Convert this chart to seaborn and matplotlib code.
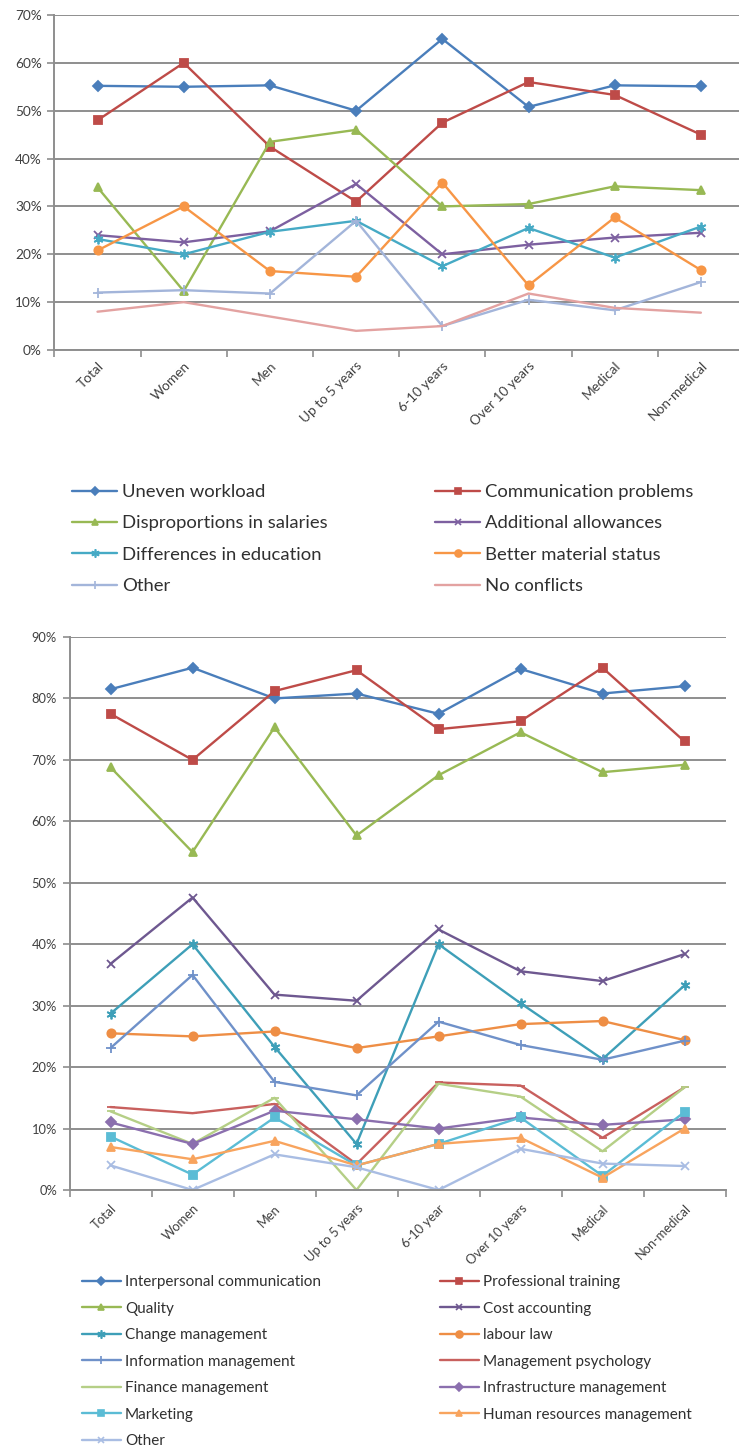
import matplotlib
matplotlib.use("Agg")
import matplotlib.pyplot as plt
from matplotlib.lines import Line2D
from matplotlib.ticker import FixedLocator, FuncFormatter
import seaborn as sns

sns.set_theme(style="white")
plt.rcParams["font.family"] = ["Lato", "DejaVu Sans"]

# ---- conflict causes (upper chart), values in percent ----
groups_conflict = ["Total", "Women", "Men", "Up to 5 years", "6-10 years",
                   "Over 10 years", "Medical", "Non-medical"]
uneven_workload = [55.2, 55.0, 55.3, 50.0, 65.0, 50.8, 55.3, 55.1]
communication_problems = [48.0, 60.0, 42.5, 31.0, 47.5, 56.0, 53.3, 45.0]
salary_disproportions = [34.0, 12.3, 43.5, 46.0, 30.0, 30.5, 34.2, 33.4]
additional_allowances = [24.0, 22.5, 24.8, 34.7, 20.0, 22.0, 23.5, 24.5]
education_differences = [23.2, 20.0, 24.7, 27.0, 17.5, 25.5, 19.3, 25.8]
material_status = [20.8, 30.0, 16.5, 15.3, 35.0, 13.5, 27.7, 16.7]
other_conflict = [12.0, 12.5, 11.8, 27.0, 5.0, 10.5, 8.3, 14.2]
no_conflicts = [8.0, 10.0, 7.0, 4.0, 5.0, 11.8, 8.8, 7.8]

# ---- training needs (lower chart), values in percent ----
groups_training = ["Total", "Women", "Men", "Up to 5 years", "6-10 year",
                   "Over 10 years", "Medical", "Non-medical"]
interpersonal = [81.5, 85.0, 80.0, 80.8, 77.5, 84.8, 80.8, 82.0]
professional = [77.5, 70.0, 81.2, 84.6, 75.0, 76.3, 85.0, 73.0]
quality = [68.8, 55.0, 75.3, 57.7, 67.5, 74.5, 68.0, 69.2]
cost_accounting = [36.8, 47.6, 31.8, 30.8, 42.4, 35.6, 34.0, 38.4]
change_mgmt = [28.7, 40.0, 23.3, 7.5, 40.0, 30.4, 21.3, 33.3]
labour_law = [25.5, 25.0, 25.8, 23.1, 25.0, 27.0, 27.5, 24.4]
information_mgmt = [23.1, 35.0, 17.6, 15.4, 27.4, 23.6, 21.2, 24.3]
mgmt_psychology = [13.5, 12.5, 14.0, 4.2, 17.5, 17.0, 8.5, 16.7]
finance_mgmt = [12.8, 7.5, 15.0, 0.0, 17.3, 15.2, 6.3, 16.7]
infrastructure_mgmt = [11.0, 7.5, 12.9, 11.5, 10.0, 11.8, 10.6, 11.5]
marketing = [8.7, 2.5, 11.8, 4.0, 7.5, 11.8, 2.3, 12.7]
hr_mgmt = [7.0, 5.0, 8.0, 4.0, 7.5, 8.5, 2.0, 10.0]
other_training = [4.0, 0.0, 5.8, 3.7, 0.0, 6.7, 4.3, 3.9]

ASTERISK = (6, 2, 0)

conflict_series = [
    ("Uneven workload", uneven_workload, "#4A7EBB", "D", 5),
    ("Communication problems", communication_problems, "#BE4B48", "s", 6),
    ("Disproportions in salaries", salary_disproportions, "#98B954", "^", 6),
    ("Additional allowances", additional_allowances, "#7D60A0", "x", 6),
    ("Differences in education", education_differences, "#46AAC5", ASTERISK, 7),
    ("Better material status", material_status, "#F79646", "o", 6),
    ("Other", other_conflict, "#A3B5DA", "+", 7),
    ("No conflicts", no_conflicts, "#E3A2A1", "", 0),
]

training_series = [
    ("Interpersonal communication", interpersonal, "#4A7EBB", "D", 5),
    ("Professional training", professional, "#BE4B48", "s", 6),
    ("Quality", quality, "#98B954", "^", 6),
    ("Cost accounting", cost_accounting, "#6E5890", "x", 6),
    ("Change management", change_mgmt, "#3E9FB8", ASTERISK, 7),
    ("labour law", labour_law, "#EE8E45", "o", 6),
    ("Information management", information_mgmt, "#6F91C9", "+", 7),
    ("Management psychology", mgmt_psychology, "#C8605E", "_", 6),
    ("Finance management", finance_mgmt, "#B5CF86", "_", 6),
    ("Infrastructure management", infrastructure_mgmt, "#8B6FAE", "D", 5),
    ("Marketing", marketing, "#5BBCD5", "s", 6),
    ("Human resources management", hr_mgmt, "#F8A45E", "^", 6),
    ("Other", other_training, "#A9BDE3", "x", 6),
]

GRID = "#8E8E8E"
TEXT = "#404040"


def draw_series(ax, groups, series):
    handles = []
    for name, vals, color, marker, ms in series:
        sns.lineplot(x=groups, y=vals, ax=ax, sort=False, color=color,
                     linewidth=1.7, marker=marker if marker else None,
                     markersize=ms, markeredgecolor=color,
                     markerfacecolor=color, markeredgewidth=1.3,
                     legend=False)
        handles.append(Line2D([], [], color=color, linewidth=1.7,
                              marker=marker if marker else None,
                              markersize=ms - 1, markeredgecolor=color,
                              markerfacecolor=color, markeredgewidth=1.2,
                              label=name))
    return handles


def style_axes(ax, ymax, xright, labelsize, xpad):
    ax.set_ylim(0, ymax)
    ax.set_xlim(-0.5, xright)
    ax.yaxis.set_major_locator(FixedLocator(range(0, ymax + 1, 10)))
    ax.yaxis.set_major_formatter(FuncFormatter(lambda v, p: f"{v:.0f}%"))
    ax.grid(axis="y", color=GRID, linewidth=1.4)
    ax.grid(axis="x", visible=False)
    ax.set_axisbelow(True)
    for side in ("top", "right"):
        ax.spines[side].set_visible(False)
    for side in ("left", "bottom"):
        ax.spines[side].set_color(GRID)
        ax.spines[side].set_linewidth(1.4)
    ax.tick_params(axis="y", which="major", length=5, width=1.2, color=GRID,
                   labelsize=labelsize, labelcolor=TEXT, pad=4, left=True)
    ax.tick_params(axis="x", which="major", length=0, labelsize=labelsize,
                   labelcolor=TEXT, pad=xpad)
    ax.xaxis.set_minor_locator(FixedLocator([i - 0.5 for i in range(9)]))
    ax.tick_params(axis="x", which="minor", length=5, width=1.2, color=GRID,
                   bottom=True)
    for lbl in ax.get_xticklabels():
        lbl.set_rotation(45)
        lbl.set_ha("right")
        lbl.set_va("top")
        lbl.set_rotation_mode("anchor")
    ax.set_xlabel("")
    ax.set_ylabel("")


def add_legend(fig, handles, x, y, fontsize, spacing, hlen):
    leg = fig.legend(handles=handles, loc="upper left", bbox_to_anchor=(x, y),
                     frameon=False, fontsize=fontsize, labelspacing=spacing,
                     handlelength=hlen, handletextpad=0.25, borderpad=0,
                     borderaxespad=0)
    for t in leg.get_texts():
        t.set_color("#303030")
    return leg


W, H = 739, 1453
fig = plt.figure(figsize=(W / 100, H / 100), dpi=100)
fig.patch.set_facecolor("white")

# upper chart: conflict causes
ax1 = fig.add_axes([54.4 / W, 1 - 350 / H, (744 - 54.4) / W, (350 - 15) / H])
h1 = draw_series(ax1, groups_conflict, conflict_series)
style_axes(ax1, 70, 7.5, 9.8, 7)

add_legend(fig, h1[0::2], 72 / W, 1 - 484 / H, 13.3, 0.83, 2.45)
add_legend(fig, h1[1::2], 435 / W, 1 - 484 / H, 13.3, 0.83, 2.45)

# lower chart: training needs
ax2 = fig.add_axes([69.5 / W, 1 - 1190 / H, 656 / W, (1190 - 637) / H])
h2 = draw_series(ax2, groups_training, training_series)
style_axes(ax2, 90, 7.5, 9.3, 9)

add_legend(fig, h2[0::2], 82 / W, 1 - 1275 / H, 11, 0.82, 2.55)
add_legend(fig, h2[1::2], 440 / W, 1 - 1275 / H, 11, 0.82, 2.55)

fig.savefig("out.png", dpi=100, facecolor="white")
